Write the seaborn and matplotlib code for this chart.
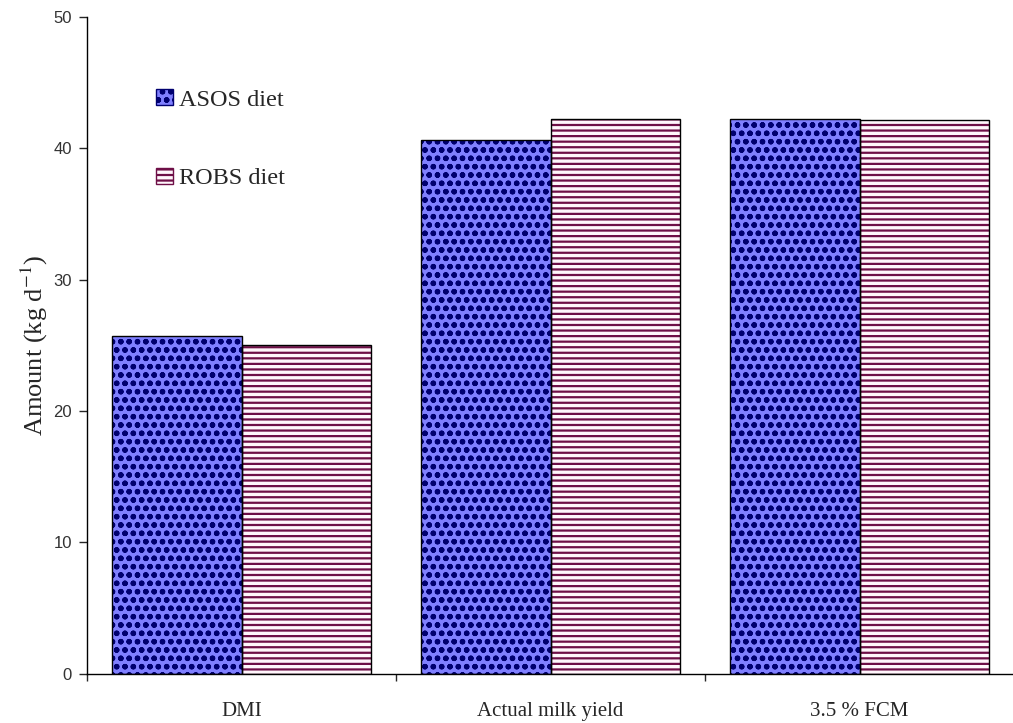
import matplotlib
matplotlib.use("Agg")
import matplotlib.pyplot as plt
import matplotlib.patches as mpatches
import seaborn as sns
import pandas as pd

# data
categories = ["DMI", "Actual milk yield", "3.5 % FCM"]
diets = ["ASOS diet", "ROBS diet"]
asos = [25.7, 40.6, 42.2]
robs = [25.0, 42.2, 42.1]
y_ticks = [0, 10, 20, 30, 40, 50]

df = pd.DataFrame({
    "measure": categories * 2,
    "diet": [diets[0]] * len(categories) + [diets[1]] * len(categories),
    "amount": asos + robs,
})

sns.set_style("ticks")
plt.rcParams["font.family"] = ["Liberation Serif", "DejaVu Serif"]
plt.rcParams["mathtext.fontset"] = "stix"
plt.rcParams["hatch.linewidth"] = 1.6

# face colour, hatch colour, hatch pattern
styles = {
    "ASOS diet": ("#7f7fff", "#000070", "oo.."),
    "ROBS diet": ("#fff6fb", "#6e0f47", "---"),
}

fig = plt.figure(figsize=(10.13, 7.23), dpi=100)
ax = fig.add_axes([0.086, 0.068, 0.915, 0.909])

# hatched bars
sns.barplot(data=df, x="measure", y="amount", hue="diet", order=categories,
            hue_order=diets, width=0.84, gap=0, errorbar=None,
            palette=[styles[d][0] for d in diets], legend=False, ax=ax)
for cont, d in zip(ax.containers, diets):
    face, hcol, hatch = styles[d]
    for bar in cont:
        bar.set_facecolor(face)
        bar.set_edgecolor(hcol)
        bar.set_hatch(hatch)
        bar.set_linewidth(0)

# black outlines on top
n = len(ax.containers)
sns.barplot(data=df, x="measure", y="amount", hue="diet", order=categories,
            hue_order=diets, width=0.84, gap=0, errorbar=None,
            palette=["white", "white"], legend=False, ax=ax)
for cont in ax.containers[n:]:
    for bar in cont:
        bar.set_facecolor("none")
        bar.set_edgecolor("black")
        bar.set_linewidth(1.0)
        bar.set_zorder(3)

ax.set_xlim(-0.5, len(categories) - 0.5)
ax.set_ylim(0, 50)
ax.set_yticks(y_ticks)
ax.set_yticklabels([str(t) for t in y_ticks], family="Liberation Sans",
                   fontsize=12, color="#333333")
ax.tick_params(axis="y", length=6, width=1, direction="out", pad=5)

ax.set_xticks(range(len(categories)))
ax.set_xticklabels(categories, fontsize=15)
ax.tick_params(axis="x", which="major", length=0, pad=20)
ax.set_xticks([i - 0.5 for i in range(len(categories) + 1)], minor=True)
ax.tick_params(axis="x", which="minor", length=5, width=1, direction="out")

ax.set_xlabel("")
ax.set_ylabel("Amount (kg d$^{-1}$)", fontsize=19, labelpad=2)
sns.despine(ax=ax)
for s in ["left", "bottom"]:
    ax.spines[s].set_color("black")
    ax.spines[s].set_linewidth(1)

handles = []
for d in diets:
    face, hcol, hatch = styles[d]
    handles.append(mpatches.Patch(facecolor=face, edgecolor=hcol, hatch=hatch,
                                  linewidth=1, label=d))
fig.legend(handles=handles, loc="upper left",
           bbox_to_anchor=(156 / 1013, 1 - 89 / 723), frameon=False,
           fontsize=17.5, handlelength=0.7, handleheight=0.65,
           handletextpad=0.25, labelspacing=2.35, borderpad=0,
           borderaxespad=0)

fig.savefig("out.png", dpi=100)
